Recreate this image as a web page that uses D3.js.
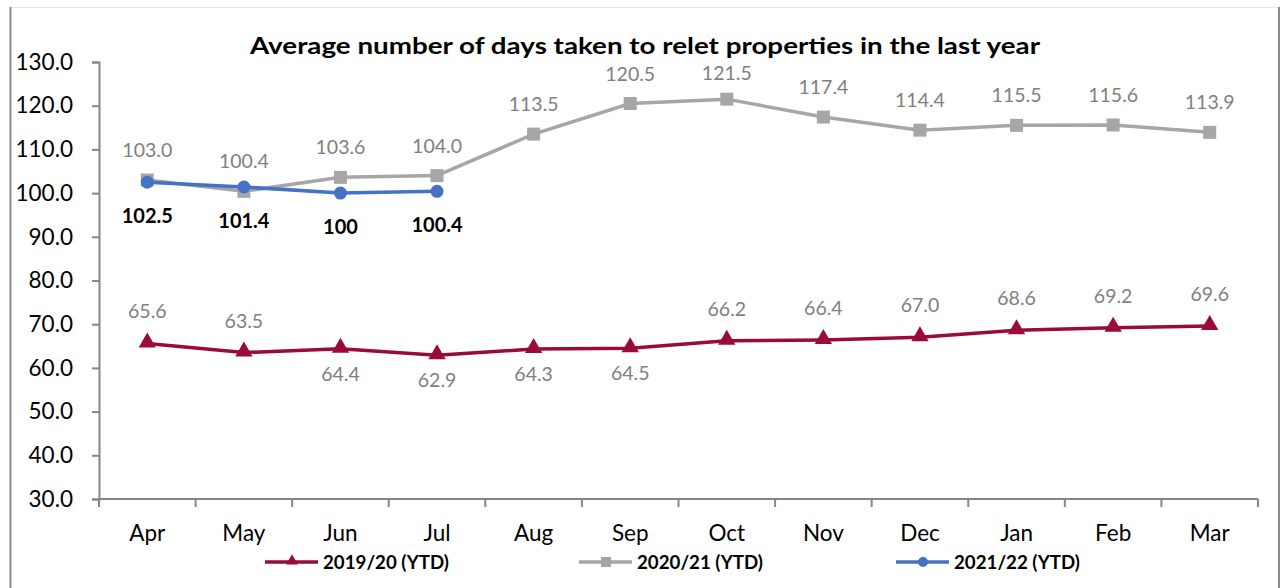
<!DOCTYPE html>
<html><head><meta charset="utf-8">
<script src="https://cdn.jsdelivr.net/npm/d3@7"></script>
<style>html,body{margin:0;padding:0;background:#fff;}svg{display:block;}</style>
</head><body>
<svg id="chart" width="1280" height="588"></svg>
<script>
const months = ["Apr","May","Jun","Jul","Aug","Sep","Oct","Nov","Dec","Jan","Feb","Mar"];
const s1920 = [65.6,63.5,64.4,62.9,64.3,64.5,66.2,66.4,67.0,68.6,69.2,69.6];
const s2021 = [103.0,100.4,103.6,104.0,113.5,120.5,121.5,117.4,114.4,115.5,115.6,113.9];
const s2122 = [102.5,101.4,100,100.4];
const labels1920Below = ["Jun","Jul","Aug","Sep"];
const yTicks = [30,40,50,60,70,80,90,100,110,120,130];
const seriesNames = ["2019/20 (YTD)","2020/21 (YTD)","2021/22 (YTD)"];
const title = "Average number of days taken to relet properties in the last year";

(function(){
const svg = d3.select("#chart");
const font = "Lato, 'Open Sans', sans-serif";
const pLeft = 99, pRight = 1258, pTop = 62, pBottom = 499;

// outer border
svg.append("line").attr("x1",10).attr("x2",1280).attr("y1",7.5).attr("y2",7.5).attr("stroke","#e6e6e6").attr("stroke-width",1);
svg.append("line").attr("x1",10.5).attr("x2",10.5).attr("y1",7).attr("y2",588).attr("stroke","#8c8c8c").attr("stroke-width",2);
svg.append("line").attr("x1",1279).attr("x2",1279).attr("y1",7).attr("y2",588).attr("stroke","#8c8c8c").attr("stroke-width",2);

const x = d3.scaleBand().domain(months).range([pLeft,pRight]);
const y = d3.scaleLinear().domain([30,130]).range([pBottom,pTop]);
const cx = m => x(m) + x.bandwidth()/2;

// axes
const yAxis = svg.append("g").attr("transform",`translate(${pLeft},0)`)
  .call(d3.axisLeft(y).tickValues(yTicks).tickFormat(d3.format(".1f")).tickSize(7).tickPadding(19));
yAxis.select(".domain").attr("stroke","#868686").attr("stroke-width",2);
yAxis.selectAll(".tick line").attr("stroke","#868686").attr("stroke-width",2);
yAxis.selectAll("text").attr("font-family",font).attr("font-size",22.5).attr("fill","#000");

const xAxis = svg.append("g").attr("transform",`translate(0,${pBottom})`)
  .call(d3.axisBottom(x).tickSize(0).tickPadding(26));
xAxis.select(".domain").attr("stroke","#868686").attr("stroke-width",2).attr("d",`M${pLeft},0H${pRight}`);
xAxis.selectAll("text").attr("font-family",font).attr("font-size",22.5).attr("fill","#000");
// band boundary ticks
svg.append("g").selectAll("line").data(months.concat(["_end"])).join("line")
  .attr("x1",(d,i)=> i<months.length ? x(d) : pRight)
  .attr("x2",(d,i)=> i<months.length ? x(d) : pRight)
  .attr("y1",pBottom).attr("y2",pBottom+8).attr("stroke","#868686").attr("stroke-width",2);

// title
svg.append("text").attr("x",645).attr("y",54).attr("text-anchor","middle")
  .attr("font-family",font).attr("font-weight","bold").attr("font-size",22).attr("fill","#000")
  .attr("textLength",790).attr("lengthAdjust","spacingAndGlyphs").text(title);

const line = d3.line().x((d,i)=>cx(months[i])).y(d=>y(d));
const colors = ["#9a0a3a","#a6a6a6","#4472c4"];

// 2020/21
svg.append("path").datum(s2021).attr("d",line).attr("fill","none").attr("stroke",colors[1]).attr("stroke-width",3.5);
svg.append("g").selectAll("rect").data(s2021).join("rect")
  .attr("x",(d,i)=>cx(months[i])-6.5).attr("y",d=>y(d)-6.5).attr("width",13).attr("height",13).attr("fill",colors[1]);
svg.append("g").selectAll("text").data(s2021).join("text")
  .attr("x",(d,i)=>cx(months[i])).attr("y",d=>Math.max(y(d)-23, 80)).attr("text-anchor","middle")
  .attr("font-family",font).attr("font-size",19.5).attr("fill","#808080").text(d=>d3.format(".1f")(d));

// 2019/20
svg.append("path").datum(s1920).attr("d",line).attr("fill","none").attr("stroke",colors[0]).attr("stroke-width",3.5);
const tri = d3.symbol().type(d3.symbolTriangle).size(130);
svg.append("g").selectAll("path").data(s1920).join("path")
  .attr("d",tri).attr("transform",(d,i)=>`translate(${cx(months[i])},${y(d)-1})`).attr("fill",colors[0]);
svg.append("g").selectAll("text").data(s1920).join("text")
  .attr("x",(d,i)=>cx(months[i]))
  .attr("y",(d,i)=> labels1920Below.includes(months[i]) ? y(d)+32 : y(d)-25)
  .attr("text-anchor","middle")
  .attr("font-family",font).attr("font-size",19.5).attr("fill","#808080").text(d=>d3.format(".1f")(d));

// 2021/22
svg.append("path").datum(s2122).attr("d",line).attr("fill","none").attr("stroke",colors[2]).attr("stroke-width",3.5);
svg.append("g").selectAll("circle").data(s2122).join("circle")
  .attr("cx",(d,i)=>cx(months[i])).attr("cy",d=>y(d)).attr("r",6.5).attr("fill",colors[2]);
svg.append("g").selectAll("text").data(s2122).join("text")
  .attr("x",(d,i)=>cx(months[i])).attr("y",d=>y(d)+41).attr("text-anchor","middle")
  .attr("font-family",font).attr("font-weight","bold").attr("font-size",20).attr("fill","#000").text(d=>String(d));

// legend
const legX = [265,579,896];
const legY = 562;
const lg = svg.append("g").selectAll("g").data(seriesNames).join("g")
  .attr("transform",(d,i)=>`translate(${legX[i]},${legY})`);
lg.append("line").attr("x1",0).attr("x2",53).attr("y1",0).attr("y2",0)
  .attr("stroke",(d,i)=>colors[i]).attr("stroke-width",3.5);
lg.each(function(d,i){
  const g = d3.select(this);
  if(i===0) g.append("path").attr("d",d3.symbol().type(d3.symbolTriangle).size(60)).attr("transform","translate(27,-1)").attr("fill",colors[0]);
  if(i===1) g.append("rect").attr("x",22).attr("y",-5).attr("width",10).attr("height",10).attr("fill",colors[1]);
  if(i===2) g.append("circle").attr("cx",27).attr("cy",0).attr("r",5).attr("fill",colors[2]);
});
lg.append("text").attr("x",58).attr("y",7).attr("font-family",font).attr("font-weight","bold")
  .attr("font-size",18).attr("fill","#000").attr("textLength",126).attr("lengthAdjust","spacingAndGlyphs").text(d=>d);
})();
</script>
</body></html>
